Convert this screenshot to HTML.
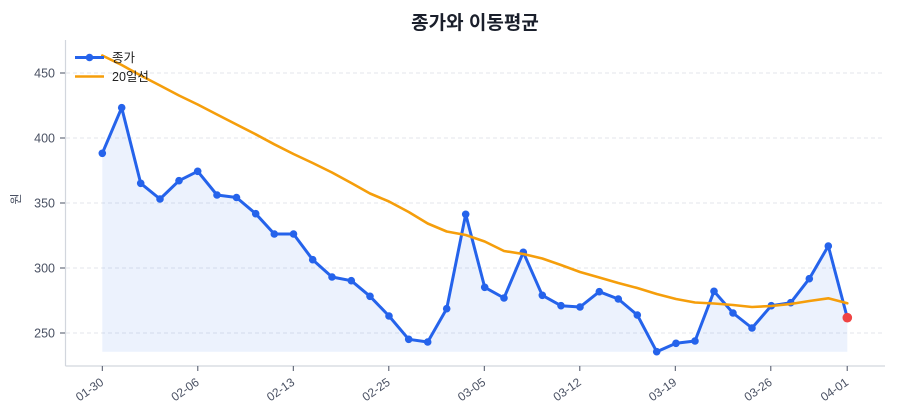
<!DOCTYPE html>
<html>
<head>
<meta charset="utf-8">
<style>
  html, body { margin: 0; padding: 0; background: #ffffff; }
  svg { display: block; }
  text { font-family: "Liberation Sans", "Noto Sans CJK KR", sans-serif; }
</style>
</head>
<body>
<svg width="900" height="420" viewBox="0 0 900 420" xmlns="http://www.w3.org/2000/svg">
  <rect x="0" y="0" width="900" height="420" fill="#ffffff"/>

  <!-- Title -->
  <text x="475" y="29" text-anchor="middle" font-size="19" font-weight="bold" fill="#1a1f2b">종가와 이동평균</text>

  <!-- Grid lines -->
  <g stroke="#e3e6eb" stroke-width="1" stroke-dasharray="4,3">
    <line x1="66" y1="73" x2="885" y2="73"/>
    <line x1="66" y1="138" x2="885" y2="138"/>
    <line x1="66" y1="203" x2="885" y2="203"/>
    <line x1="66" y1="268" x2="885" y2="268"/>
    <line x1="66" y1="333" x2="885" y2="333"/>
  </g>

  <!-- Area fill -->
  <polygon fill="#2563eb" fill-opacity="0.085" points="102.3,153.3 121.7,107.7 140.7,183.3 160,199 179,180.7 197.7,171.3 217,195 236.5,197.5 255.7,213.7 274.3,234 293.5,234 312.7,259.7 332,277 351.3,280.7 370,296.3 389,316 408.7,339.3 427.7,342 446.7,308.7 465.7,214.3 484.7,287.3 504,298 523.3,252.3 542.3,295.3 561,305.7 580,307 599.3,291.7 618.3,299 637.3,315 656.7,351.7 676,343.3 695,341 714,291.3 733,313 752,328 771.3,305.7 790.7,302.7 809.3,278.7 828.3,246 847.3,317.7 847.3,351.7 102.3,351.7"/>

  <!-- Axes spines -->
  <line x1="65.5" y1="40" x2="65.5" y2="366" stroke="#d2d6dd" stroke-width="1.2"/>
  <line x1="65.5" y1="366" x2="885" y2="366" stroke="#d2d6dd" stroke-width="1.2"/>

  <!-- Y ticks -->
  <g stroke="#4a5163" stroke-width="1">
    <line x1="60" y1="73" x2="65" y2="73"/>
    <line x1="60" y1="138" x2="65" y2="138"/>
    <line x1="60" y1="203" x2="65" y2="203"/>
    <line x1="60" y1="268" x2="65" y2="268"/>
    <line x1="60" y1="333" x2="65" y2="333"/>
  </g>
  <g font-size="12.5" fill="#4a5163" text-anchor="end">
    <text x="55" y="77.5">450</text>
    <text x="55" y="142.5">400</text>
    <text x="55" y="207.5">350</text>
    <text x="55" y="272.5">300</text>
    <text x="55" y="337.5">250</text>
  </g>
  <text x="24" y="203" font-size="12" fill="#4a5163" text-anchor="middle" transform="rotate(-90 20 203)">원</text>

  <!-- X ticks -->
  <g stroke="#4a5163" stroke-width="1">
    <line x1="102.3" y1="366" x2="102.3" y2="371"/>
    <line x1="197.8" y1="366" x2="197.8" y2="371"/>
    <line x1="293.3" y1="366" x2="293.3" y2="371"/>
    <line x1="388.8" y1="366" x2="388.8" y2="371"/>
    <line x1="484.3" y1="366" x2="484.3" y2="371"/>
    <line x1="579.8" y1="366" x2="579.8" y2="371"/>
    <line x1="675.3" y1="366" x2="675.3" y2="371"/>
    <line x1="770.8" y1="366" x2="770.8" y2="371"/>
    <line x1="847.2" y1="366" x2="847.2" y2="371"/>
  </g>
  <g font-size="12" fill="#4a5163" text-anchor="end">
    <text x="104.5" y="384" transform="rotate(-35 104.5 384)">01-30</text>
    <text x="200" y="384" transform="rotate(-35 200 384)">02-06</text>
    <text x="295.5" y="384" transform="rotate(-35 295.5 384)">02-13</text>
    <text x="391" y="384" transform="rotate(-35 391 384)">02-25</text>
    <text x="486.5" y="384" transform="rotate(-35 486.5 384)">03-05</text>
    <text x="582" y="384" transform="rotate(-35 582 384)">03-12</text>
    <text x="677.5" y="384" transform="rotate(-35 677.5 384)">03-19</text>
    <text x="773" y="384" transform="rotate(-35 773 384)">03-26</text>
    <text x="849.4" y="384" transform="rotate(-35 849.4 384)">04-01</text>
  </g>

  <!-- Close line -->
  <polyline fill="none" stroke="#2563eb" stroke-width="3" stroke-linejoin="round" stroke-linecap="round" points="102.3,153.3 121.7,107.7 140.7,183.3 160,199 179,180.7 197.7,171.3 217,195 236.5,197.5 255.7,213.7 274.3,234 293.5,234 312.7,259.7 332,277 351.3,280.7 370,296.3 389,316 408.7,339.3 427.7,342 446.7,308.7 465.7,214.3 484.7,287.3 504,298 523.3,252.3 542.3,295.3 561,305.7 580,307 599.3,291.7 618.3,299 637.3,315 656.7,351.7 676,343.3 695,341 714,291.3 733,313 752,328 771.3,305.7 790.7,302.7 809.3,278.7 828.3,246 847.3,317.7"/>
  <g fill="#2563eb">
    <circle cx="102.3" cy="153.3" r="3.8"/><circle cx="121.7" cy="107.7" r="3.8"/><circle cx="140.7" cy="183.3" r="3.8"/><circle cx="160" cy="199" r="3.8"/>
    <circle cx="179" cy="180.7" r="3.8"/><circle cx="197.7" cy="171.3" r="3.8"/><circle cx="217" cy="195" r="3.8"/><circle cx="236.5" cy="197.5" r="3.8"/>
    <circle cx="255.7" cy="213.7" r="3.8"/><circle cx="274.3" cy="234" r="3.8"/><circle cx="293.5" cy="234" r="3.8"/><circle cx="312.7" cy="259.7" r="3.8"/>
    <circle cx="332" cy="277" r="3.8"/><circle cx="351.3" cy="280.7" r="3.8"/><circle cx="370" cy="296.3" r="3.8"/><circle cx="389" cy="316" r="3.8"/>
    <circle cx="408.7" cy="339.3" r="3.8"/><circle cx="427.7" cy="342" r="3.8"/><circle cx="446.7" cy="308.7" r="3.8"/><circle cx="465.7" cy="214.3" r="3.8"/>
    <circle cx="484.7" cy="287.3" r="3.8"/><circle cx="504" cy="298" r="3.8"/><circle cx="523.3" cy="252.3" r="3.8"/><circle cx="542.3" cy="295.3" r="3.8"/>
    <circle cx="561" cy="305.7" r="3.8"/><circle cx="580" cy="307" r="3.8"/><circle cx="599.3" cy="291.7" r="3.8"/><circle cx="618.3" cy="299" r="3.8"/>
    <circle cx="637.3" cy="315" r="3.8"/><circle cx="656.7" cy="351.7" r="3.8"/><circle cx="676" cy="343.3" r="3.8"/><circle cx="695" cy="341" r="3.8"/>
    <circle cx="714" cy="291.3" r="3.8"/><circle cx="733" cy="313" r="3.8"/><circle cx="752" cy="328" r="3.8"/><circle cx="771.3" cy="305.7" r="3.8"/>
    <circle cx="790.7" cy="302.7" r="3.8"/><circle cx="809.3" cy="278.7" r="3.8"/><circle cx="828.3" cy="246" r="3.8"/>
  </g>

  <!-- MA line -->
  <polyline fill="none" stroke="#f59e0b" stroke-width="2.6" stroke-linejoin="round" stroke-linecap="round" points="102.3,55.5 121.7,65 140.7,75.5 160,85.5 179,95.5 197.7,104.5 217,114.5 236.5,124.5 255.7,134.3 274.3,144.3 293.5,154 312.7,163 332,172.5 351.3,183 370,193.5 389,201.5 408.7,212 427.7,223.5 446.7,231.5 465.7,235 484.7,241.5 504,251 523.3,254 542.3,258.5 561,265 580,272 599.3,277.5 618.3,283 637.3,288 656.7,294 676,299 695,302.5 714,303.5 733,305 752,307 771.3,306 790.7,304 809.3,301 828.3,298.3 847.3,303.3"/>

  <!-- Last point red -->
  <circle cx="847.3" cy="317.7" r="4.8" fill="#ef4444"/>

  <!-- Legend -->
  <line x1="75" y1="57.5" x2="104" y2="57.5" stroke="#2563eb" stroke-width="3"/>
  <circle cx="89.5" cy="57.5" r="3.8" fill="#2563eb"/>
  <text x="112" y="62" font-size="12.5" fill="#222222">종가</text>
  <line x1="75" y1="76.5" x2="104" y2="76.5" stroke="#f59e0b" stroke-width="2.6"/>
  <text x="112" y="81" font-size="12.5" fill="#222222">20일선</text>
</svg>
</body>
</html>
